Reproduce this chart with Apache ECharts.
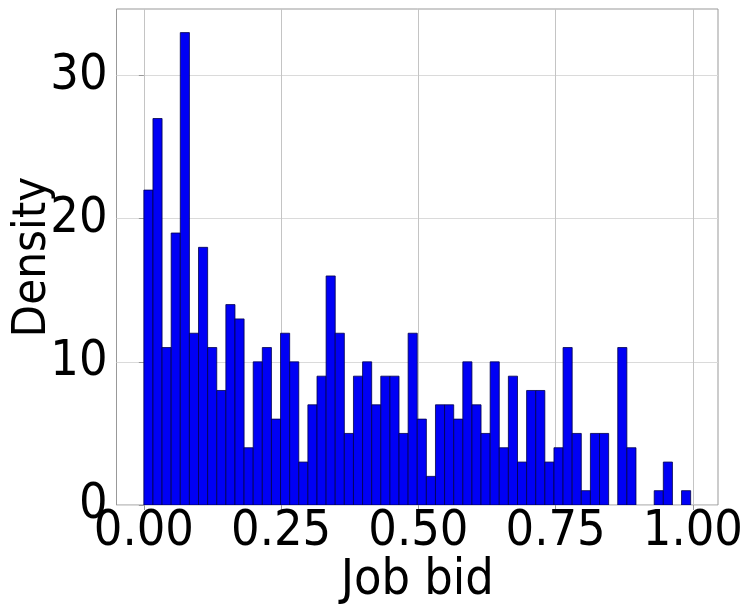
<!DOCTYPE html>
<html>
<head>
<meta charset="utf-8">
<script src="https://cdn.jsdelivr.net/npm/echarts@6/dist/echarts.min.js"></script>
<style>
  html, body { margin: 0; padding: 0; background: #ffffff; }
  #chart { width: 749px; height: 604px; }
</style>
</head>
<body>
<div id="chart"></div>
<script>
// Histogram of job bids: 60 equal-width bins over [binStart, binStart + 60 * binWidth]
const counts = [
  22, 27, 11, 19, 33, 12, 18, 11, 8, 14,
  13, 4, 10, 11, 6, 12, 10, 3, 7, 9,
  16, 12, 5, 9, 10, 7, 9, 9, 5, 12,
  6, 2, 7, 7, 6, 10, 7, 5, 10, 4,
  9, 3, 8, 8, 3, 4, 11, 5, 1, 5,
  5, 0, 11, 4, 0, 0, 1, 3, 0, 1
];
const binStart = 0.0;
const binWidth = 0.0166;
const xTicks = [0, 0.25, 0.5, 0.75, 1.0];
const yTicks = [0, 10, 20, 30];
const xLabel = 'Job bid';
const yLabel = 'Density';

// bin rows: [left edge, right edge, count]
const bins = counts.map((c, i) => [binStart + i * binWidth, binStart + (i + 1) * binWidth, c]);

// 5% padding on both sides, like the usual auto-limits
const dataMin = binStart;
const dataMax = binStart + counts.length * binWidth;
const pad = (dataMax - dataMin) * 0.05;
const yMax = Math.max(...counts) * 1.05;

const FONT = '"DejaVu Sans Condensed", "DejaVu Sans", sans-serif';

const chart = echarts.init(document.getElementById('chart'), null, { renderer: 'canvas' });
chart.setOption({
  animation: false,
  backgroundColor: '#ffffff',
  grid: {
    left: 116.5, right: 31, top: 9, bottom: 99,
    containLabel: false,
    outerBoundsMode: 'none',
    show: true, borderColor: '#999999', borderWidth: 1, backgroundColor: 'transparent'
  },
  xAxis: {
    type: 'value',
    min: dataMin - pad,
    max: dataMax + pad,
    axisLine: { show: false },
    axisTick: { show: true, customValues: xTicks, length: 5, lineStyle: { color: '#999999' } },
    axisLabel: {
      customValues: xTicks,
      formatter: v => v.toFixed(2),
      fontFamily: FONT, fontSize: 50, color: '#000000', margin: 2
    },
    splitLine: { show: true, lineStyle: { color: '#c4c4c4', width: 1 } },
    name: xLabel,
    nameLocation: 'middle',
    nameGap: 51,
    nameMoveOverlap: false,
    nameTextStyle: { fontFamily: FONT, fontSize: 50, color: '#000000' }
  },
  yAxis: {
    type: 'value',
    min: 0,
    max: yMax,
    axisLine: { show: false },
    axisTick: { show: true, customValues: yTicks, length: 5, lineStyle: { color: '#999999' } },
    axisLabel: {
      customValues: yTicks,
      fontFamily: FONT, fontSize: 50, color: '#000000', margin: 9
    },
    splitLine: { show: true, lineStyle: { color: '#dadada', width: 1 } },
    name: yLabel,
    nameLocation: 'middle',
    nameGap: 60,
    nameRotate: 90,
    nameMoveOverlap: false,
    nameTextStyle: { fontFamily: FONT, fontSize: 47, color: '#000000' }
  },
  series: [{
    type: 'custom',
    data: bins,
    encode: { x: [0, 1], y: 2 },
    clip: true,
    renderItem: function (params, api) {
      const h = api.value(2);
      if (h <= 0) return null;
      const topLeft = api.coord([api.value(0), h]);
      const bottomRight = api.coord([api.value(1), 0]);
      return {
        type: 'rect',
        shape: {
          x: topLeft[0],
          y: topLeft[1],
          width: bottomRight[0] - topLeft[0],
          height: bottomRight[1] - topLeft[1]
        },
        style: { fill: '#0000f5', stroke: '#00004a', lineWidth: 0.8 }
      };
    }
  }]
});
</script>
</body>
</html>
